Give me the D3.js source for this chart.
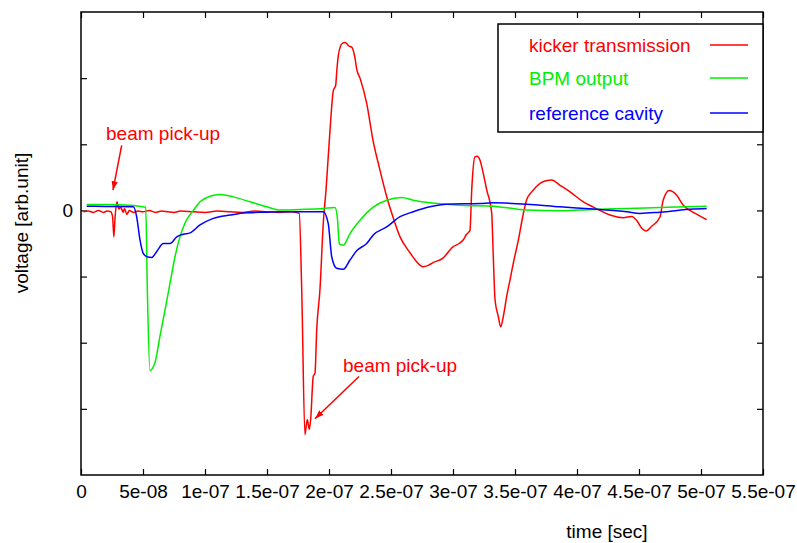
<!DOCTYPE html>
<html><head><meta charset="utf-8">
<script src="https://cdn.jsdelivr.net/npm/d3@7"></script>
<style>body{margin:0;background:#fff}svg{display:block}text{font-family:"Liberation Sans",Arial,sans-serif}</style>
</head><body>
<svg id="c" width="797" height="543"></svg>
<script>
// time in ns, voltage in arbitrary units
const kickerT = [2,6,10,14,18,21,24,25.5,26.5,27.5,29,30.5,32,34,35,37,39,42,46,50,55,60,65,70,75,80,90,100,110,120,130,140,150,160,170,176,178,180.6,182.5,184.1,185.2,187.3,188.7,190.1,192.7,195.4,197.6,200.8,203.5,205.4,206.2,207.5,209.4,211,212.9,214.5,215.6,218.3,221,222.3,225,230.4,235.5,241.1,246.5,251.6,257.3,265.3,270,275.8,280,283.9,291.9,300,305,308,311,313.7,315.1,317.7,319.4,321.8,324.4,327.2,331.2,332.5,333.9,336.5,338.5,340.6,343.3,346,348.6,352.7,356.7,359.4,363.5,370.2,375,379.6,386.3,394.4,405.1,413.2,418.5,426.6,437.3,444.1,448.1,452.2,455.6,460.2,466.9,469.6,474.4,480.4,485.7,491.1,497.8,504.6];
const kickerV = [-0.02,-0.01,-0.03,0.0,-0.03,-0.01,-0.02,-0.1,-0.4,-0.1,0.13,0.02,0.05,-0.03,0.03,-0.06,0.0,-0.03,-0.01,-0.02,0.0,-0.03,-0.01,-0.02,-0.03,-0.01,-0.02,-0.03,-0.01,-0.02,-0.03,-0.01,-0.02,-0.03,-0.02,-0.045,-1.2,-3.39,-3.16,-3.31,-3.16,-2.51,-2.46,-1.8,-1.2,-0.19,0.31,1.21,1.81,1.89,2.09,2.34,2.49,2.53,2.54,2.52,2.49,2.47,2.3,2.14,2.0,1.62,1.06,0.61,0.21,-0.1,-0.4,-0.64,-0.76,-0.85,-0.83,-0.79,-0.72,-0.55,-0.5,-0.45,-0.36,-0.3,0.31,0.81,0.82,0.76,0.56,0.31,-0.04,-0.7,-1.35,-1.6,-1.76,-1.6,-1.3,-1.05,-0.8,-0.45,-0.05,0.16,0.28,0.41,0.45,0.46,0.38,0.28,0.13,0.05,0.0,-0.07,-0.11,-0.09,-0.15,-0.27,-0.31,-0.24,-0.1,0.16,0.3,0.23,0.08,0.0,-0.07,-0.14];

const bpmT = [4.6,20,40,50,52.2,53.5,55.6,59.7,63.7,67.7,71.8,75.8,79.8,83.9,90.6,96,104,112.1,122.8,136.3,149.8,160.5,176.6,195.4,204.8,206.7,208.3,209.7,211.5,216.9,225,235.7,246.5,258.6,268,281.5,294.9,305.6,332.5,359.4,386.3,413.2,440.1,467,504.6];
const bpmV = [0.09,0.09,0.08,0.054,0.05,-1.2,-2.42,-2.3,-1.9,-1.51,-1.1,-0.7,-0.4,-0.19,0.0,0.13,0.215,0.24,0.205,0.13,0.055,0.005,0.015,0.03,0.045,-0.1,-0.5,-0.52,-0.525,-0.35,-0.15,0.05,0.155,0.195,0.155,0.115,0.095,0.08,0.065,0.005,-0.006,0.015,0.03,0.045,0.065];

const cavityT = [4.6,20,42.2,44.9,47.6,50.2,53.2,57,61.1,66.4,71.8,77.2,82.5,87.9,96,106.7,120.2,133.6,149.8,160.5,195.4,199.4,202.2,206.2,211.5,216.9,222.3,230.4,235.7,246.5,257.3,268,281.5,294.9,321.8,332.5,359.4,386.3,413.2,440.1,450.8,467,493.8,504.6];
const cavityV = [0.065,0.06,0.055,-0.096,-0.45,-0.65,-0.7,-0.71,-0.62,-0.5,-0.5,-0.4,-0.36,-0.34,-0.22,-0.12,-0.07,-0.035,-0.026,-0.02,-0.02,-0.2,-0.7,-0.875,-0.89,-0.75,-0.61,-0.5,-0.37,-0.25,-0.095,-0.02,0.055,0.095,0.105,0.115,0.095,0.055,0.02,-0.02,-0.045,-0.026,0.02,0.03];

const seriesNames = ["kicker transmission","BPM output","reference cavity"];
const seriesColors = ["#ff0000","#00ee00","#0000ff"];

const xTickValues = [0,5e-8,1e-7,1.5e-7,2e-7,2.5e-7,3e-7,3.5e-7,4e-7,4.5e-7,5e-7,5.5e-7];
const xTickLabels = ["0","5e-08","1e-07","1.5e-07","2e-07","2.5e-07","3e-07","3.5e-07","4e-07","4.5e-07","5e-07","5.5e-07"];
const yTickValues = [-3,-2,-1,0,1,2];
const yTickLabels = ["","","","0","",""];

// annotations: text anchor (t ns, v) and arrow tail -> head
const noteText = ["beam pick-up","beam pick-up"];
const noteTextPos = [[20.2,1.06],[211.3,-2.45]];
const noteArrowFrom = [[32.8,0.985],[224.2,-2.51]];
const noteArrowTo = [[25.8,0.306],[188.7,-3.15]];

const svg = d3.select("#c");
const L=81,R=763,T=12,B=475;
const x = d3.scaleLinear().domain([0,5.5e-7]).range([L,R]);
const y = d3.scaleLinear().domain([-4,3]).range([B,T]);
const fs = 19;

const ax = svg.append("g").attr("transform",`translate(0,${B})`)
  .call(d3.axisBottom(x).tickValues(xTickValues).tickSize(-6).tickPadding(10)
  .tickFormat((d,i)=>xTickLabels[i]));
const axt = svg.append("g").attr("transform",`translate(0,${T})`)
  .call(d3.axisTop(x).tickValues(xTickValues).tickSize(-6).tickFormat(""));
const ay = svg.append("g").attr("transform",`translate(${L},0)`)
  .call(d3.axisLeft(y).tickValues(yTickValues).tickSize(-6).tickPadding(8)
  .tickFormat((d,i)=>yTickLabels[i]));
const ayr = svg.append("g").attr("transform",`translate(${R},0)`)
  .call(d3.axisRight(y).tickValues(yTickValues).tickSize(-6).tickFormat(""));
[ax,axt,ay,ayr].forEach(g=>{
  g.select(".domain").remove();
  g.selectAll("line").attr("stroke","#000").attr("stroke-width",1.2);
  g.selectAll("text").attr("font-size",fs).attr("fill","#000").attr("font-family","Liberation Sans, Arial, sans-serif");
});
ax.selectAll("text").attr("dy","0.71em");

const lineGen = d3.line().x(d=>x(d[0]*1e-9)).y(d=>y(d[1])).curve(d3.curveMonotoneX);
const series = [
  d3.zip(kickerT,kickerV),
  d3.zip(bpmT,bpmV),
  d3.zip(cavityT,cavityV)
];
svg.append("clipPath").attr("id","cp").append("rect").attr("x",L).attr("y",T).attr("width",R-L).attr("height",B-T);
series.forEach((s,i)=>{
  svg.append("path").datum(s).attr("d",lineGen).attr("fill","none")
    .attr("stroke",seriesColors[i]).attr("stroke-width",1.5).attr("stroke-linejoin","round")
    .attr("clip-path","url(#cp)");
});

svg.append("rect").attr("x",L).attr("y",T).attr("width",R-L).attr("height",B-T)
  .attr("fill","none").attr("stroke","#000").attr("stroke-width",1.5);

const lg = svg.append("g");
lg.append("rect").attr("x",498).attr("y",24).attr("width",R-498).attr("height",108)
  .attr("fill","#fff").attr("stroke","#000").attr("stroke-width",1.5);
const legY = [45,78,113];
seriesNames.forEach((n,i)=>{
  lg.append("text").attr("x",529).attr("y",legY[i]+6.5).attr("font-size",fs).attr("fill",seriesColors[i]).text(n);
  lg.append("line").attr("x1",710).attr("x2",748).attr("y1",legY[i]).attr("y2",legY[i])
    .attr("stroke",seriesColors[i]).attr("stroke-width",1.5);
});

const defs = svg.append("defs");
defs.append("marker").attr("id","ah").attr("viewBox","0 0 10 10").attr("refX",10).attr("refY",5)
  .attr("markerWidth",9).attr("markerHeight",9).attr("markerUnits","userSpaceOnUse").attr("orient","auto")
  .append("path").attr("d","M0,1.5 L10,5 L0,8.5 Z").attr("fill","#ff0000");
noteText.forEach((t,i)=>{
  svg.append("text").attr("x",x(noteTextPos[i][0]*1e-9)).attr("y",y(noteTextPos[i][1]))
    .attr("font-size",fs).attr("fill","#ff0000").text(t);
  svg.append("line")
    .attr("x1",x(noteArrowFrom[i][0]*1e-9)).attr("y1",y(noteArrowFrom[i][1]))
    .attr("x2",x(noteArrowTo[i][0]*1e-9)).attr("y2",y(noteArrowTo[i][1]))
    .attr("stroke","#ff0000").attr("stroke-width",1.5).attr("marker-end","url(#ah)");
});

svg.append("text").attr("x",607).attr("y",538).attr("text-anchor","middle").attr("font-size",fs).text("time [sec]");
svg.append("text").attr("transform","translate(28,223) rotate(-90)").attr("text-anchor","middle").attr("font-size",fs).text("voltage [arb.unit]");
</script>
</body></html>
